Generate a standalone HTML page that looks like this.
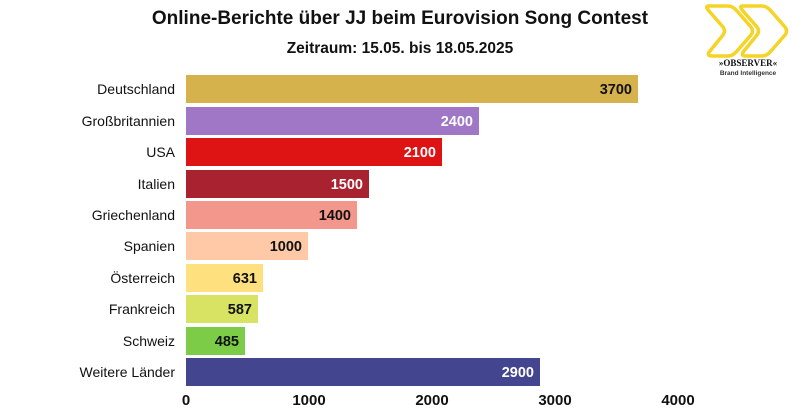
<!DOCTYPE html>
<html><head><meta charset="utf-8"><style>
body{margin:0;background:#fff;width:800px;height:410px;overflow:hidden;font-family:"Liberation Sans",sans-serif;}
</style></head><body>
<svg width="800" height="410" xmlns="http://www.w3.org/2000/svg" font-family="Liberation Sans, sans-serif">
<text x="400" y="24" text-anchor="middle" font-size="19" font-weight="bold" fill="#111">Online-Berichte über JJ beim Eurovision Song Contest</text>
<text x="400" y="53" text-anchor="middle" font-size="15.5" font-weight="bold" fill="#111">Zeitraum: 15.05. bis 18.05.2025</text>
<g fill="none" stroke="#f5d327" stroke-width="3.5" stroke-linejoin="round">
<path d="M708 6 L728 6 Q733 6 737 11 L751 27 Q754 31 751 35 L737 51 Q733 56 728 56 L712 56 Q706 56 710 51 L723 35 Q726 31 723 27 L709 11 Q705 6 708 6Z"/>
<path d="M742 6 L762 6 Q767 6 771 11 L785 27 Q788 31 785 35 L771 51 Q767 56 762 56 L746 56 Q740 56 744 51 L757 35 Q760 31 757 27 L743 11 Q739 6 742 6Z"/>
</g>
<text x="748" y="66" text-anchor="middle" font-size="9" font-weight="bold" font-family="Liberation Serif, serif" fill="#111">»OBSERVER«</text>
<text x="748" y="75" text-anchor="middle" font-size="6.5" font-weight="bold" fill="#333">Brand Intelligence</text>
<g font-size="14" fill="#111" text-anchor="end">
<text x="175" y="94">Deutschland</text>
<text x="175" y="126">Großbritannien</text>
<text x="175" y="157">USA</text>
<text x="175" y="189">Italien</text>
<text x="175" y="220">Griechenland</text>
<text x="175" y="251">Spanien</text>
<text x="175" y="283">Österreich</text>
<text x="175" y="314">Frankreich</text>
<text x="175" y="346">Schweiz</text>
<text x="175" y="377">Weitere Länder</text>
</g>
<g>
<rect x="186" y="75" width="452" height="28" fill="#d6b24c"/>
<rect x="186" y="107" width="293" height="28" fill="#9f77c6"/>
<rect x="186" y="138" width="256" height="28" fill="#de1414"/>
<rect x="186" y="170" width="183" height="28" fill="#a82230"/>
<rect x="186" y="201" width="171" height="28" fill="#f3978c"/>
<rect x="186" y="232" width="122" height="28" fill="#ffc8a6"/>
<rect x="186" y="264" width="77" height="28" fill="#ffe07f"/>
<rect x="186" y="295" width="72" height="28" fill="#d9e363"/>
<rect x="186" y="327" width="59" height="28" fill="#7ccc47"/>
<rect x="186" y="358" width="354" height="28" fill="#43458f"/>
</g>
<g font-size="14.5" font-weight="bold" text-anchor="end">
<text x="632" y="94" fill="#111">3700</text>
<text x="473" y="126" fill="#fff">2400</text>
<text x="436" y="157" fill="#fff">2100</text>
<text x="363" y="189" fill="#fff">1500</text>
<text x="351" y="220" fill="#111">1400</text>
<text x="302" y="251" fill="#111">1000</text>
<text x="257" y="283" fill="#111">631</text>
<text x="252" y="314" fill="#111">587</text>
<text x="239" y="346" fill="#111">485</text>
<text x="534" y="377" fill="#fff">2900</text>
</g>
<g font-size="15" font-weight="bold" fill="#111" text-anchor="middle">
<text x="186" y="405">0</text>
<text x="309" y="405">1000</text>
<text x="432" y="405">2000</text>
<text x="555" y="405">3000</text>
<text x="678" y="405">4000</text>
</g>
</svg>
</body></html>
